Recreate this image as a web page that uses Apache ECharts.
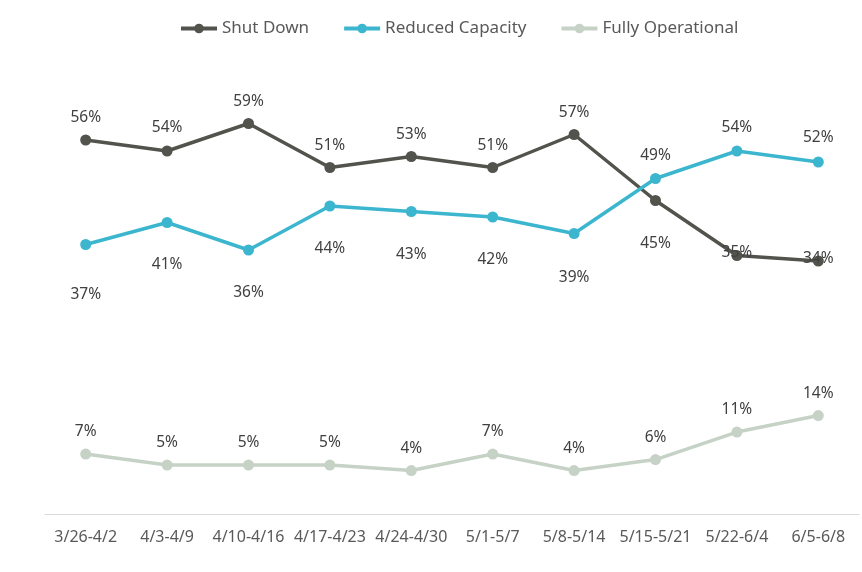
<!DOCTYPE html>
<html><head><meta charset="utf-8">
<script src="https://cdn.jsdelivr.net/npm/echarts@6/dist/echarts.min.js"></script>
<style>html,body{margin:0;padding:0;background:#fff}#c{width:862px;height:572px}</style>
</head><body><div id="c"></div>
<script>
var categories = ['3/26-4/2','4/3-4/9','4/10-4/16','4/17-4/23','4/24-4/30','5/1-5/7','5/8-5/14','5/15-5/21','5/22-6/4','6/5-6/8'];
var shutDown = [56,54,59,51,53,51,57,45,35,34];
var reducedCapacity = [37,41,36,44,43,42,39,49,54,52];
var fullyOperational = [7,5,5,5,4,7,4,6,11,14];

var shutOffsets = [-22,-23,-22,-22,-22,-22,-22,43,-3,-2];
var redOffsets = [50,42,43,43,43,43,44,-23,-23,-24];
var fullOffsets = [-22,-22,-22,-22,-22,-22,-22,-22,-22,-22];

function items(vals, offs){
  return vals.map(function(v,i){
    return {value:v, label:{offset:[0, offs[i]]}};
  });
}
var labelBase = {show:true, position:'inside', color:'#404040', fontSize:15.5, fontFamily:'Noto Sans', formatter:'{c}%'};

function mkSeries(name, vals, offs, color, yi){
  return {
    name:name, type:'line', data:items(vals, offs), yAxisIndex:yi,
    symbol:'circle', symbolSize:11,
    lineStyle:{color:color, width:3.5},
    itemStyle:{color:color},
    label:labelBase,
    emphasis:{disabled:true}
  };
}

var chart = echarts.init(document.getElementById('c'));
chart.setOption({
  animation:false,
  textStyle:{fontFamily:'Noto Sans'},
  legend:{
    left:174, top:15, itemWidth:36, itemHeight:12, itemGap:33,
    lineStyle:{width:4},
    textStyle:{color:'#595959', fontSize:17, fontFamily:'Noto Sans'},
    data:['Shut Down','Reduced Capacity','Fully Operational']
  },
  grid:{left:45, right:3, top:52, bottom:58},
  xAxis:{
    type:'category', data:categories, boundaryGap:true,
    axisLine:{onZero:false, lineStyle:{color:'#d9d9d9', width:1}},
    axisTick:{show:false},
    axisLabel:{color:'#595959', fontSize:16, fontFamily:'Noto Sans', margin:15, interval:0}
  },
  yAxis:[
    {type:'value', min:-12, max:72, show:false, splitLine:{show:false}},
    {type:'value', min:-3.9, max:80.1, show:false, splitLine:{show:false}}
  ],
  series:[
    mkSeries('Shut Down', shutDown, shutOffsets, '#53534d', 0),
    mkSeries('Reduced Capacity', reducedCapacity, redOffsets, '#3cb6ce', 0),
    mkSeries('Fully Operational', fullyOperational, fullOffsets, '#c6d2c6', 1)
  ]
});
</script></body></html>
